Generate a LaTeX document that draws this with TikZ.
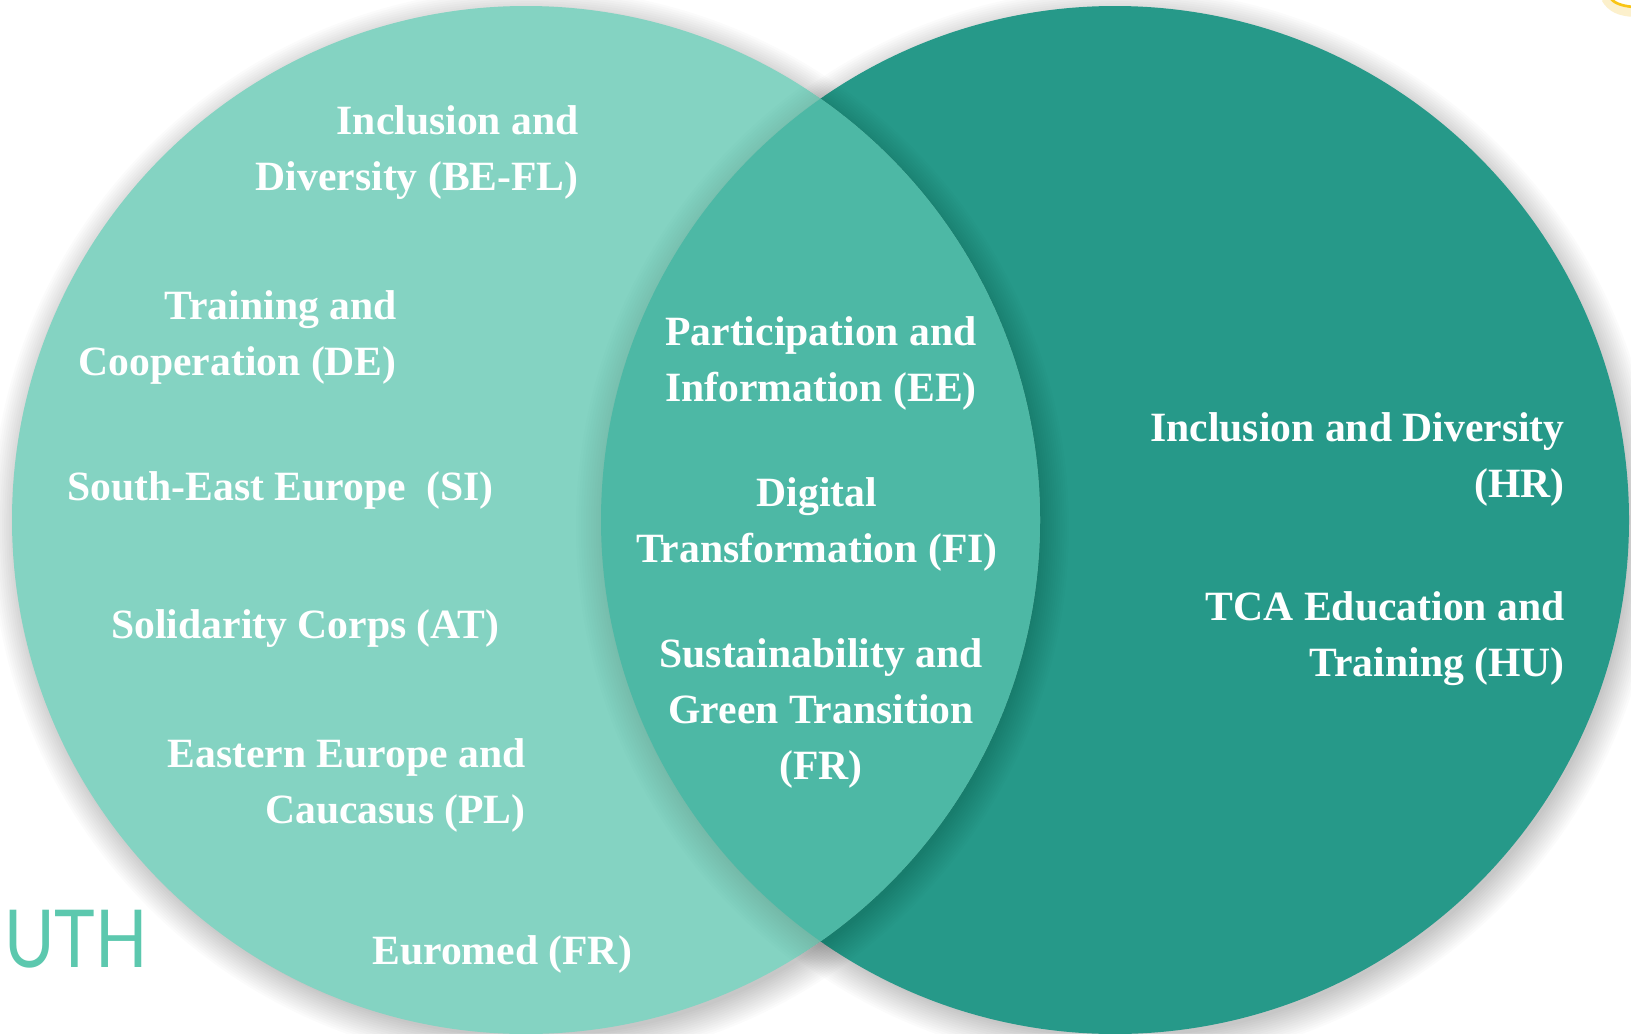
\documentclass[tikz,border=0pt]{standalone}
\usepackage{fontspec}
\setmainfont{Liberation Serif}
\newfontfamily\uthfont{Lato}
\definecolor{lightc}{HTML}{84D3C2}
\definecolor{darkc}{HTML}{269989}
\definecolor{lensc}{HTML}{4DB8A5}
\definecolor{uthc}{HTML}{5CC8AE}
\definecolor{yel}{HTML}{F9C516}
\definecolor{yelhalo}{HTML}{FCF0CC}
\tikzset{
  lbl/.style={text=white, font=\bfseries\fontsize{25}{33.6}\selectfont, inner sep=0pt},
  shadowdisk/.style={fill=black, fill opacity=0.016}
}
\begin{document}
\begin{tikzpicture}[x=0.6pt,y=-0.6pt]
\def\R{308.4pt}
\useasboundingbox (0,0) rectangle (1631,1033);
\clip (0,0) rectangle (1631,1033);
\fill[white] (0,0) rectangle (1631,1033);
\coordinate (L) at (526,520);
\coordinate (Rc) at (1115,520);
\coordinate (Ls) at (530,527);
\coordinate (Rs) at (1119,527);
% drop shadows on white
\foreach \d in {0,...,13} {
  \fill[shadowdisk] (Rs) circle[radius=\R+\d*1.3pt-2pt];
  \fill[shadowdisk] (Ls) circle[radius=\R+\d*1.3pt-2pt];
}
% right circle
\fill[darkc] (Rc) circle[radius=\R];
\begin{scope}
  \clip (Rc) circle[radius=\R];
  \foreach \d in {0,...,13} {\fill[shadowdisk, fill opacity=0.011] (Ls) circle[radius=\R+\d*1.3pt-2pt];}
\end{scope}
% left circle
\fill[lightc] (L) circle[radius=\R];
\begin{scope}
  \clip (L) circle[radius=\R];
  \foreach \d in {0,...,13} {\fill[shadowdisk, fill opacity=0.006] (Rs) circle[radius=\R+\d*1.5pt-2pt];}
\end{scope}
% lens
\begin{scope}
  \clip (L) circle[radius=\R];
  \fill[lensc] (Rc) circle[radius=\R];
\end{scope}
% yellow arc top right
\draw[yelhalo, line width=6pt] (1606,-2) .. controls (1612,8) and (1620,11) .. (1634,12);
\draw[yel, line width=1.6pt] (1609,-3) .. controls (1614,3) and (1621,6) .. (1634,7);
% labels
\node[lbl, align=right, anchor=east] (ibefl) at (579,153) {Inclusion and\\Diversity (BE-FL)};
\node[lbl, align=right, anchor=east] (tde) at (397,337) {Training and\\Cooperation (DE)};
\node[lbl, anchor=base west] (sesi) at (67,500) {South-East Europe~~(SI)};
\node[lbl, anchor=base west] (scat) at (111,638) {Solidarity Corps (AT)};
\node[lbl, align=right, anchor=east] (eepl) at (526,785) {Eastern Europe and\\Caucasus (PL)};
\node[lbl, anchor=base west] (emfr) at (372,964) {Euromed (FR)};
\node[lbl, align=center] (piee) at (821,363) {Participation and\\Information (EE)};
\node[lbl, align=center] (dtfi) at (817,524) {Digital\\Transformation (FI)};
\node[lbl, align=center] (sgfr) at (821,713) {Sustainability and\\Green Transition\\(FR)};
\node[lbl, align=right, anchor=east] (idhr) at (1565,459) {Inclusion and Diversity\\(HR)};
\node[lbl, align=right, anchor=east] (tcahu) at (1565,639) {TCA Education and\\Training (HU)};
\node[text=uthc, font=\uthfont\fontsize{48}{54}\selectfont, inner sep=0pt, anchor=base west] (uth) at (4,967) {\scalebox{0.86}[1]{UTH}};
\end{tikzpicture}
\end{document}
